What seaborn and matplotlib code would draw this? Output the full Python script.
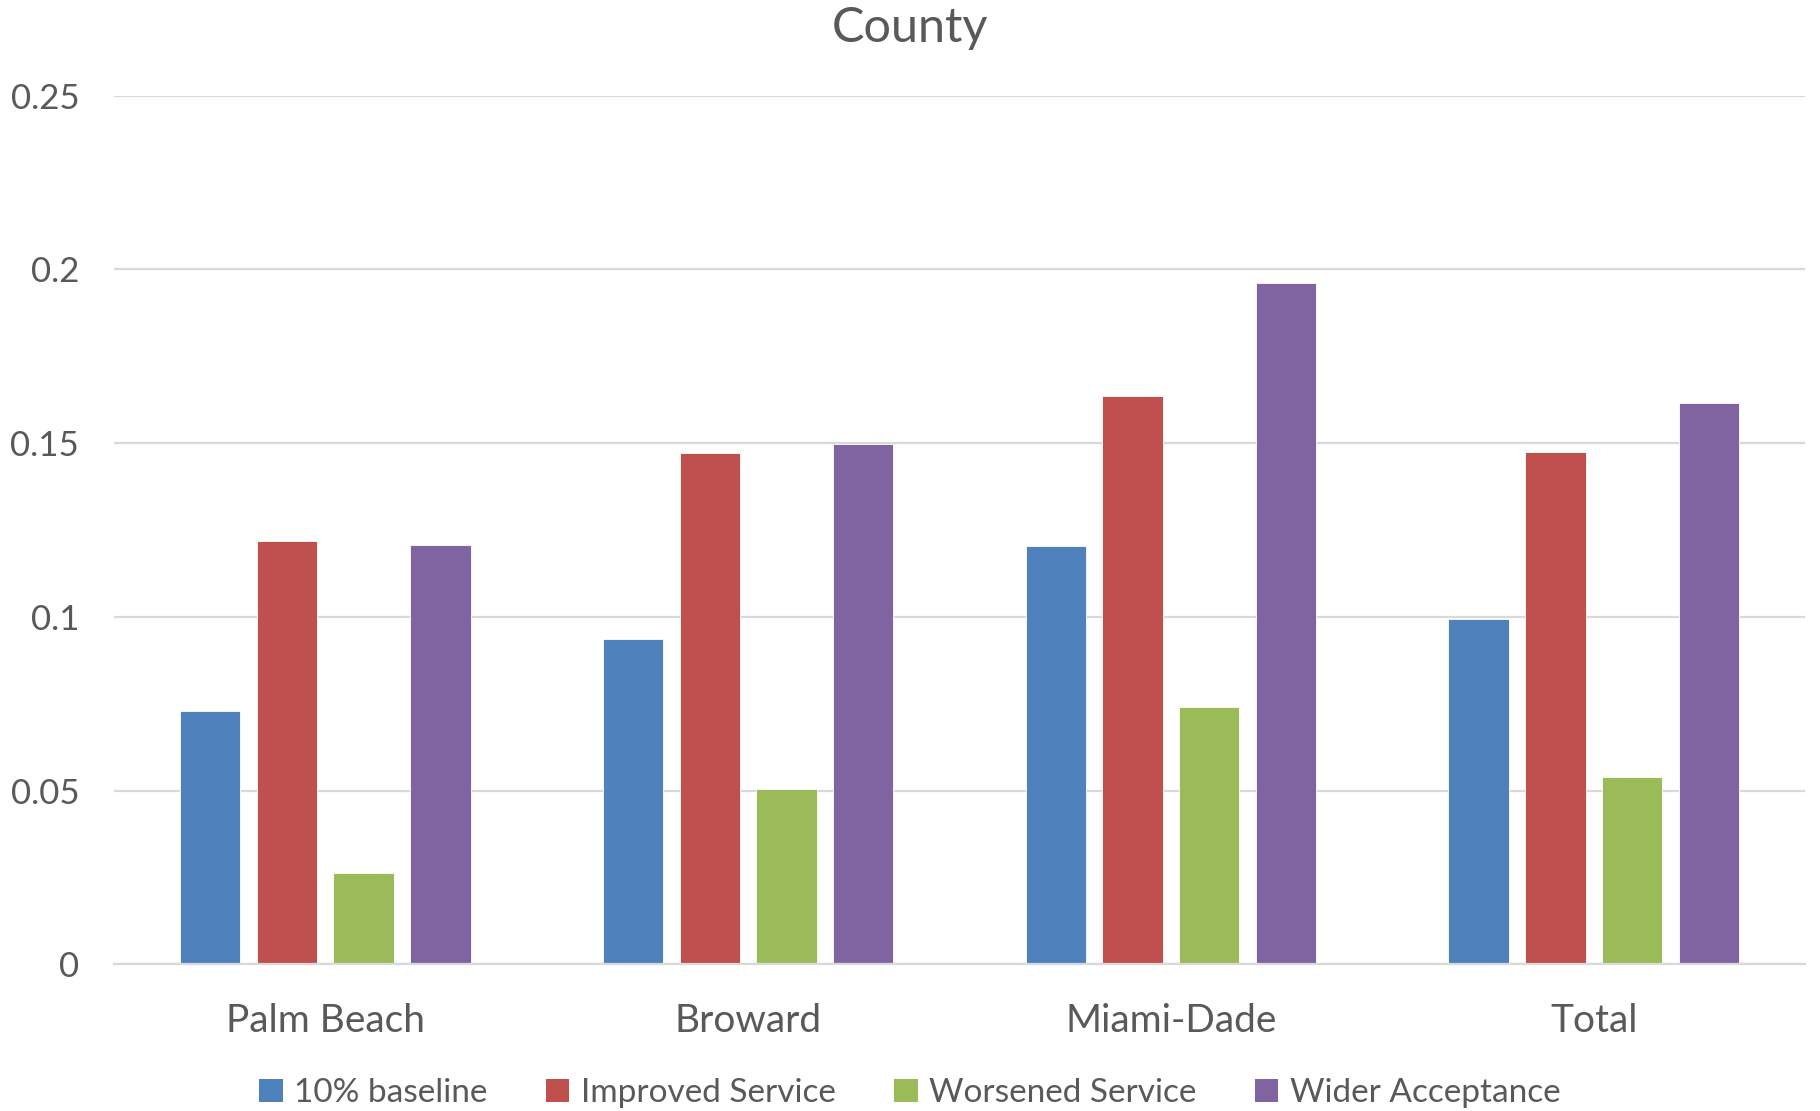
import numpy as np
import pandas as pd
import matplotlib
matplotlib.use("Agg")
import matplotlib.pyplot as plt
import seaborn as sns
from matplotlib.patches import Patch

counties = ["Palm Beach", "Broward", "Miami-Dade", "Total"]
series_names = ["10% baseline", "Improved Service", "Worsened Service", "Wider Acceptance"]
baseline = [0.0728, 0.0936, 0.1203, 0.0993]
improved = [0.1218, 0.1472, 0.1636, 0.1475]
worsened = [0.0263, 0.0505, 0.0741, 0.0540]
wider = [0.1208, 0.1498, 0.1960, 0.1615]
colors = ["#4F81BD", "#C0504D", "#9BBB59", "#8064A2"]
y_ticks = [0, 0.05, 0.1, 0.15, 0.2, 0.25]
y_tick_labels = ["0", "0.05", "0.1", "0.15", "0.2", "0.25"]

df = pd.DataFrame({
    "County": counties * 4,
    "Scenario": np.repeat(series_names, len(counties)),
    "Value": baseline + improved + worsened + wider,
})

sns.set_theme(style="white")
plt.rcParams["font.family"] = ["Lato", "DejaVu Sans"]
text_color = "#595959"

fig = plt.figure(figsize=(18.2, 11.11), dpi=100)
ax = fig.add_axes([0.0626, 0.132, 0.9292, 0.7818])

sns.barplot(data=df, x="County", y="Value", hue="Scenario",
            order=counties, hue_order=series_names, palette=colors,
            saturation=1, width=0.7256, gap=0.213, errorbar=None, ax=ax,
            edgecolor="white", linewidth=0.6, legend=False)

ax.set_xlim(-0.5, 3.5)
ax.set_ylim(0, 0.25)
ax.set_yticks(y_ticks)
ax.set_yticklabels(y_tick_labels)
ax.yaxis.grid(True, color="#D9D9D9", linewidth=1.6)
ax.set_axisbelow(True)
for side in ["top", "right", "left"]:
    ax.spines[side].set_visible(False)
ax.spines["bottom"].set_color("#D9D9D9")
ax.spines["bottom"].set_linewidth(1.6)
ax.set_xlabel("")
ax.set_ylabel("")
ax.tick_params(axis="y", length=0, pad=25, labelsize=25, labelcolor=text_color)
ax.tick_params(axis="x", length=0, pad=28, labelsize=28, labelcolor=text_color)

fig.text(0.5, 0.975, "County", ha="center", va="center", fontsize=35, color=text_color)

handles = [Patch(facecolor=c, edgecolor="none") for c in colors]
fig.legend(handles, series_names, loc="center", bbox_to_anchor=(0.5, 0.016),
           ncol=4, frameon=False, fontsize=24, labelcolor=text_color,
           handlelength=0.7, handleheight=0.7, handletextpad=0.35, columnspacing=1.75)

fig.savefig("out.png", dpi=100, facecolor="white")
